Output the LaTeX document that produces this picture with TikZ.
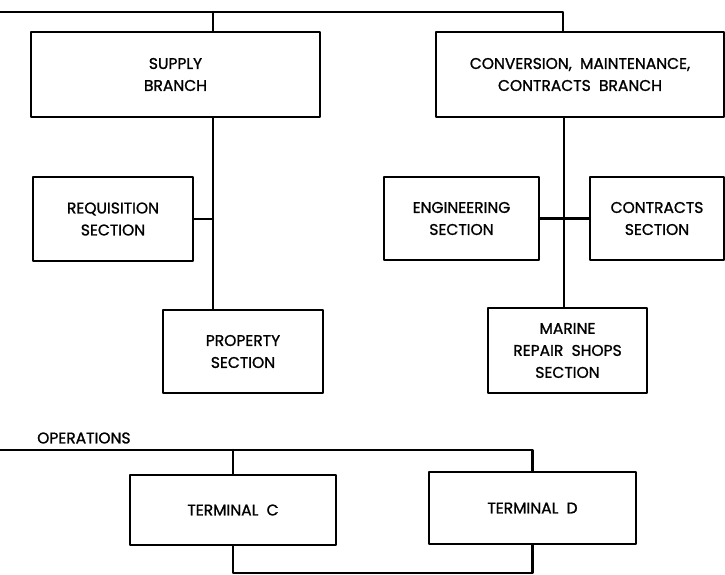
\documentclass[tikz,border=0pt]{standalone}
\usepackage{fontspec}
\setmainfont{Poppins}[FakeBold=1.2]
\usetikzlibrary{positioning}
\begin{document}
\begin{tikzpicture}[x=1pt,y=-1pt,line join=round,line cap=round,line width=2.4pt,
	box/.style={draw,align=center,inner sep=0pt,font=\fontsize{15.5}{22}\selectfont},
	lbl/.style={font=\fontsize{15.5}{22}\selectfont,inner sep=0pt}]
	\useasboundingbox (0,0) rectangle (725,574);
	% branches
	\node[box,minimum width=289pt,minimum height=85pt] (supply) at (175.5,74.5) {SUPPLY\\BRANCH};
	\node[box,minimum width=288pt,minimum height=85pt] (conv) at (580,74.5) {CONVERSION,\ \ MAINTENANCE,\\CONTRACTS\ \ BRANCH};
	% sections
	\node[box,minimum width=160pt,minimum height=84pt] (req) at (113,219) {REQUISITION\\SECTION};
	\node[box,minimum width=160pt,minimum height=83pt] (prop) at (243,351.5) {PROPERTY\\SECTION};
	\node[box,minimum width=155pt,minimum height=83pt] (eng) at (461.5,218.5) {ENGINEERING\\SECTION};
	\node[box,minimum width=134pt,minimum height=83pt] (contr) at (657,218.5) {CONTRACTS\\SECTION};
	\node[box,minimum width=159pt,minimum height=85pt] (marine) at (567.5,350.5) {MARINE\\REPAIR\ \ SHOPS\\SECTION};
	% operations
	\node[lbl,anchor=west] (ops) at (36,438) {OPERATIONS};
	\node[box,minimum width=206pt,minimum height=70pt] (tc) at (233,510) {TERMINAL\ \ C};
	\node[box,minimum width=207pt,minimum height=72pt] (td) at (532.5,508) {TERMINAL\ \ D};
	\coordinate (top) at (0,12);
	\coordinate (topR) at (563,12);
	\coordinate (trunkL) at (213,0);
	\coordinate (trunkR) at (564,0);
	\coordinate (opsL) at (0,450);
	\coordinate (bot) at (0,573);
	\draw (top) -- (topR) -- (topR |- conv.north);
	\draw (trunkL |- top) -- (trunkL |- supply.north);
	\draw (trunkL |- supply.south) -- (trunkL |- prop.north);
	\draw (req.east) -- (req.east -| trunkL);
	\draw (trunkR |- conv.south) -- (trunkR |- marine.north);
	\draw (eng.east) -- (contr.west);
	\draw (opsL) -| (td.north);
	\draw (tc.north) -- (tc.north |- opsL);
	\draw (tc.south) -- (tc.south |- bot) -- (td.south |- bot) -- (td.south);
\end{tikzpicture}
\end{document}
